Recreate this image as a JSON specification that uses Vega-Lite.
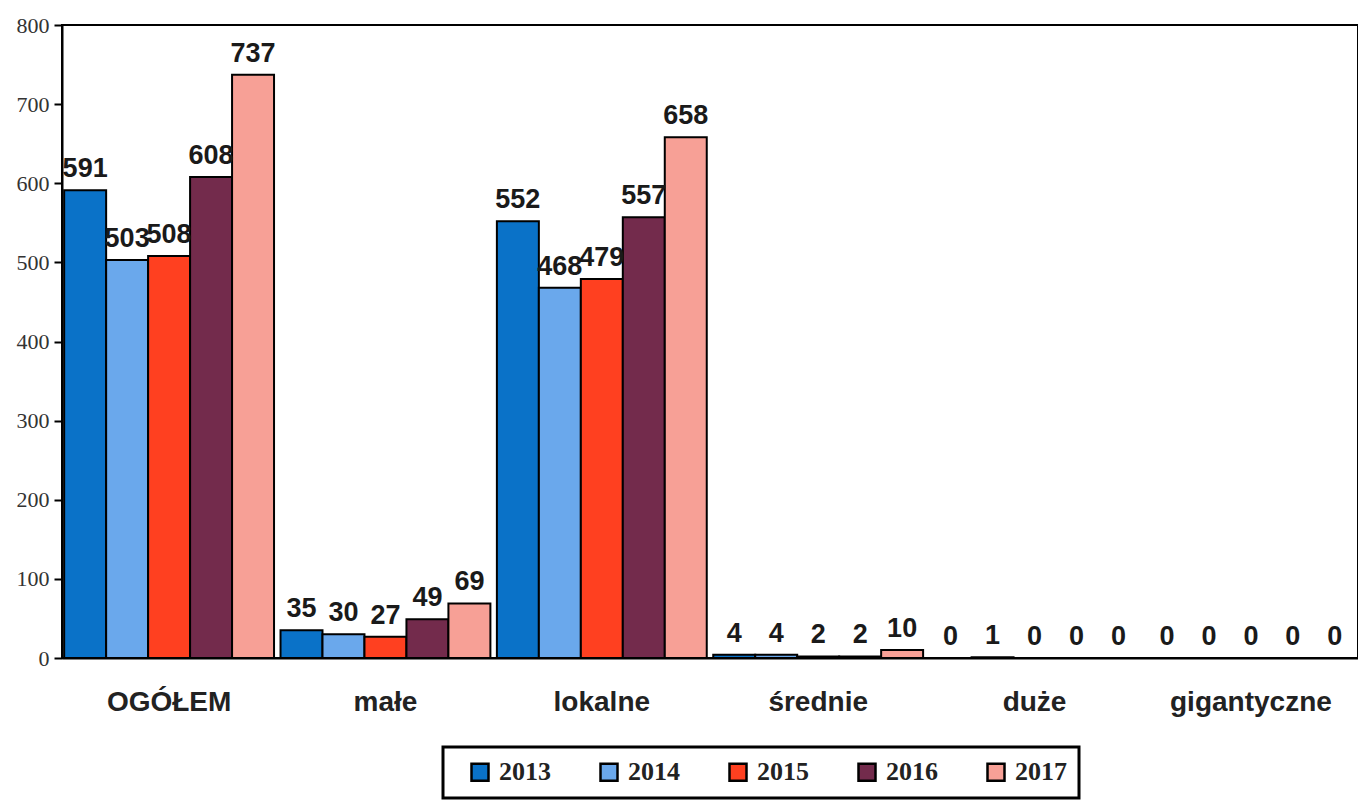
{
  "$schema": "https://vega.github.io/schema/vega-lite/v6.json",
  "autosize": {"type": "none"},
  "padding": {"left": 62, "top": 25, "right": 0, "bottom": 144},
  "width": 1296,
  "height": 633,
  "background": "white",
  "config": {
    "view": {"stroke": "black", "strokeWidth": 2},
    "font": "Liberation Sans"
  },
  "data": {
    "values": [
      {"cat": "OGÓŁEM", "year": "2013", "value": 591},
      {"cat": "OGÓŁEM", "year": "2014", "value": 503},
      {"cat": "OGÓŁEM", "year": "2015", "value": 508},
      {"cat": "OGÓŁEM", "year": "2016", "value": 608},
      {"cat": "OGÓŁEM", "year": "2017", "value": 737},
      {"cat": "małe", "year": "2013", "value": 35},
      {"cat": "małe", "year": "2014", "value": 30},
      {"cat": "małe", "year": "2015", "value": 27},
      {"cat": "małe", "year": "2016", "value": 49},
      {"cat": "małe", "year": "2017", "value": 69},
      {"cat": "lokalne", "year": "2013", "value": 552},
      {"cat": "lokalne", "year": "2014", "value": 468},
      {"cat": "lokalne", "year": "2015", "value": 479},
      {"cat": "lokalne", "year": "2016", "value": 557},
      {"cat": "lokalne", "year": "2017", "value": 658},
      {"cat": "średnie", "year": "2013", "value": 4},
      {"cat": "średnie", "year": "2014", "value": 4},
      {"cat": "średnie", "year": "2015", "value": 2},
      {"cat": "średnie", "year": "2016", "value": 2},
      {"cat": "średnie", "year": "2017", "value": 10},
      {"cat": "duże", "year": "2013", "value": 0},
      {"cat": "duże", "year": "2014", "value": 1},
      {"cat": "duże", "year": "2015", "value": 0},
      {"cat": "duże", "year": "2016", "value": 0},
      {"cat": "duże", "year": "2017", "value": 0},
      {"cat": "gigantyczne", "year": "2013", "value": 0},
      {"cat": "gigantyczne", "year": "2014", "value": 0},
      {"cat": "gigantyczne", "year": "2015", "value": 0},
      {"cat": "gigantyczne", "year": "2016", "value": 0},
      {"cat": "gigantyczne", "year": "2017", "value": 0}
    ]
  },
  "encoding": {
    "x": {
      "field": "cat", "type": "nominal", "sort": null,
      "scale": {"paddingInner": 0.03, "paddingOuter": 0.01},
      "axis": {
        "title": null, "labelAngle": 0, "ticks": false,
        "labelFont": "Liberation Sans", "labelFontSize": 28, "labelFontWeight": "bold",
        "labelColor": "#222", "labelPadding": 30,
        "domainColor": "black", "domainWidth": 2
      }
    },
    "xOffset": {"field": "year", "type": "nominal", "sort": null, "scale": {"paddingInner": 0}},
    "y": {
      "field": "value", "type": "quantitative",
      "scale": {"domain": [0, 800]},
      "axis": {
        "title": null, "values": [0, 100, 200, 300, 400, 500, 600, 700, 800],
        "grid": false, "tickSize": 8, "tickColor": "black", "tickWidth": 2,
        "domainColor": "black", "domainWidth": 2,
        "labelFont": "Liberation Serif", "labelFontSize": 22, "labelColor": "#333", "labelPadding": 5
      }
    }
  },
  "layer": [
    {
      "mark": {"type": "bar", "stroke": "black", "strokeWidth": 2},
      "encoding": {
        "color": {
          "field": "year", "type": "nominal",
          "scale": {"domain": ["2013", "2014", "2015", "2016", "2017"], "range": ["#0a72c8", "#6aa8ec", "#ff4020", "#732b4c", "#f7a096"]},
          "legend": {
            "title": null, "orient": "none", "direction": "horizontal",
            "legendX": 381, "legendY": 722,
            "symbolType": "square", "symbolSize": 289, "symbolStrokeColor": "black", "symbolStrokeWidth": 2.5,
            "symbolOpacity": 1, "symbolOffset": 12,
            "labelFont": "Liberation Serif", "labelFontSize": 26, "labelFontWeight": "bold", "labelColor": "#222",
            "columnPadding": 33, "labelOffset": 6,
            "padding": 12,
            "fillColor": "white", "strokeColor": "black",
            "encode": {"legend": {"update": {"strokeWidth": {"value": 3}}}}
          }
        }
      }
    },
    {
      "mark": {"type": "text", "dy": -21, "fontSize": 27, "fontWeight": "bold", "font": "Liberation Sans", "color": "#1a1a1a"},
      "encoding": {"text": {"field": "value", "type": "quantitative"}}
    }
  ]
}
